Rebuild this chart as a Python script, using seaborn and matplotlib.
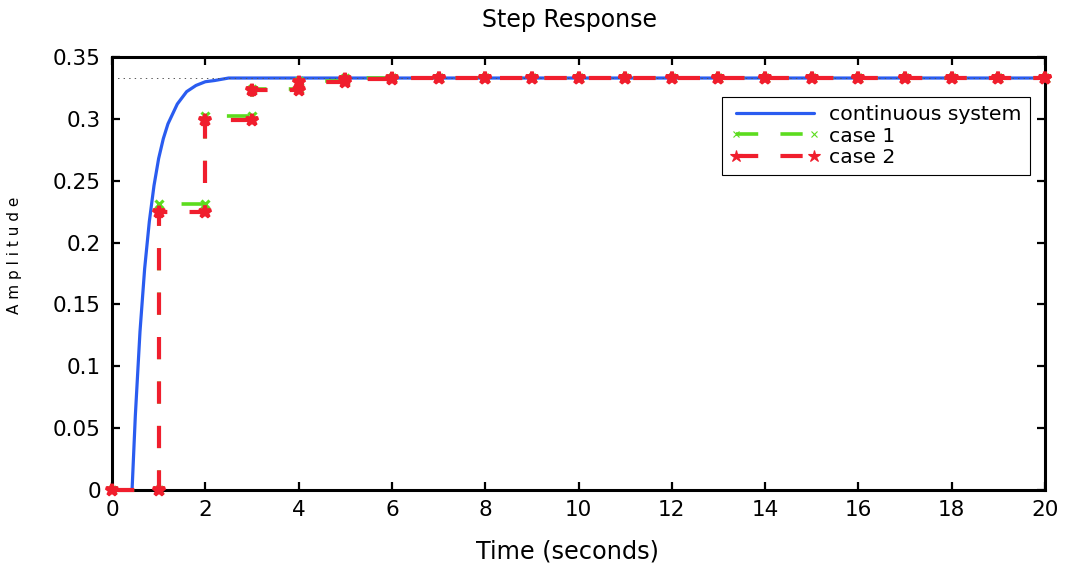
import numpy as np
import pandas as pd
import matplotlib
matplotlib.use("Agg")
import matplotlib.pyplot as plt
import seaborn as sns

# ---- data ----
t_cont = [0.0, 0.43, 0.5, 0.6, 0.7, 0.8, 0.9, 1.0, 1.1, 1.2, 1.4, 1.6, 1.8, 2.0, 2.2, 2.5, 3.0, 20.0]
y_cont = [0.0, 0.0, 0.060, 0.128, 0.179, 0.217, 0.246, 0.268, 0.284, 0.296, 0.312, 0.322, 0.327, 0.330, 0.331, 0.333, 0.333, 0.333]

k_samples = list(range(21))
y_case1 = [0.0, 0.231, 0.302, 0.324, 0.331, 0.333] + [0.333] * 15
y_case2 = [0.0, 0.225, 0.299, 0.323, 0.330, 0.332] + [0.333] * 15

steady_value = 0.333
labels = ["continuous system", "case 1", "case 2"]
xticks = list(range(0, 21, 2))
yticks = [0, 0.05, 0.1, 0.15, 0.2, 0.25, 0.3, 0.35]
ytick_labels = ["0", "0.05", "0.1", "0.15", "0.2", "0.25", "0.3", "0.35"]

BLUE = "#2a5cf0"
GREEN = "#5cdc1e"
RED = "#f01e2d"


def stairs(k, y):
    xs, ys = [], []
    for i in range(len(k) - 1):
        xs += [k[i], k[i + 1]]
        ys += [y[i], y[i]]
    xs.append(k[-1])
    ys.append(y[-1])
    return pd.DataFrame({"t": xs, "y": ys})


sns.set_theme(style="ticks")
plt.rcParams["font.family"] = ["DejaVu Sans"]
plt.rcParams["lines.scale_dashes"] = False
plt.rcParams["text.color"] = "black"
plt.rcParams["axes.labelcolor"] = "black"

fig = plt.figure(figsize=(10.65, 5.68), dpi=100)
ax = fig.add_axes([112 / 1065, 1 - 490 / 568, (1045 - 112) / 1065, (490 - 57) / 568])

df_c = pd.DataFrame({"t": t_cont, "y": y_cont})
sns.lineplot(data=df_c, x="t", y="y", ax=ax, color=BLUE, lw=2.3,
             estimator=None, sort=False, label=labels[0], zorder=2)

ax.axhline(steady_value, color="#555555", lw=0.7, ls=(0, (1, 3)), zorder=2.5)

df1 = stairs(k_samples, y_case1)
sns.lineplot(data=df1, x="t", y="y", ax=ax, color=GREEN, lw=2.6,
             estimator=None, sort=False, label=labels[1], zorder=3,
             marker="x", markersize=6, markeredgewidth=2.2,
             markeredgecolor=GREEN, dashes=False)
df2 = stairs(k_samples, y_case2)
sns.lineplot(data=df2, x="t", y="y", ax=ax, color=RED, lw=3.0,
             estimator=None, sort=False, label=labels[2], zorder=4,
             marker="*", markersize=9, markeredgewidth=2.6,
             markeredgecolor=RED, dashes=False)

lines = ax.get_lines()
lines[2].set_linestyle((0, (16, 16)))
lines[3].set_linestyle((0, (16, 16)))
for ln in lines:
    ln.set_clip_on(False)

ax.set_xlim(0, 20)
ax.set_ylim(0, 0.35)
ax.set_xticks(xticks)
ax.set_xticklabels([str(v) for v in xticks])
ax.set_yticks(yticks)
ax.set_yticklabels(ytick_labels)
ax.tick_params(direction="in", length=6, width=1.6, labelsize=15.5,
               top=True, right=True, colors="black")
ax.tick_params(axis="x", pad=7)
ax.tick_params(axis="y", pad=8)
for sp in ax.spines.values():
    sp.set_visible(True)
    sp.set_linewidth(2.2)
    sp.set_color("black")

ax.set_xlabel("")
ax.set_ylabel("")
fig.text(568 / 1065, 1 - 551 / 568, "Time (seconds)", ha="center", va="center", fontsize=17.3)
fig.text(570 / 1065, 1 - 20 / 568, "Step Response", ha="center", va="center", fontsize=17)
fig.text(15 / 1065, 1 - 255 / 568, "A m p l i t u d e", ha="center", va="center",
         rotation=90, fontsize=11)

leg = ax.legend(loc="upper left", bbox_to_anchor=(722 / 1065, 1 - 97 / 568),
                bbox_transform=fig.transFigure, fontsize=14.7, frameon=True,
                fancybox=False, framealpha=1, edgecolor="black", numpoints=2,
                handlelength=4.4, handletextpad=0.45, labelspacing=0.12,
                borderpad=0.4, borderaxespad=0)
leg.get_frame().set_linewidth(0.8)
for h in leg.legend_handles:
    h.set_markeredgewidth(0.8)
leg.legend_handles[1].set_markersize(5)
leg.legend_handles[2].set_markersize(9)
leg.set_zorder(5)

fig.savefig("out.png", dpi=100, facecolor="white")
